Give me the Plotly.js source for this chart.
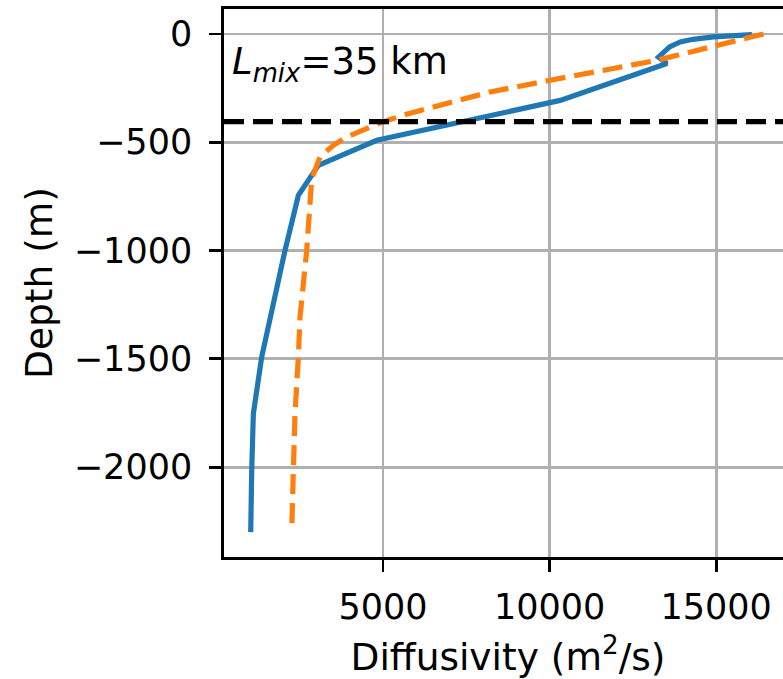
<!DOCTYPE html>
<html>
<head>
<meta charset="utf-8">
<script src="https://cdn.plot.ly/plotly-3.0.1.min.js"></script>
<style>
html, body { margin: 0; padding: 0; overflow: hidden; background: #fff; }
#chart { width: 800px; height: 679px; }
</style>
</head>
<body>
<div id="chart"></div>
<script>
// Blue (solid) profile: diffusivity (m^2/s) vs depth (m)
const blueDiffusivity = [16072, 15420, 14919, 14300, 13919, 13600, 13268, 13519, 10315, 4811, 3057, 2457, 2057, 1357, 1207, 1106, 1057, 1027];
const blueDepth       = [-3,    -7,    -14,   -25,   -37,   -60,   -107,  -137,  -307,  -491, -607, -745, -999, -1491, -1628, -1753, -2015, -2300];

// Orange (dashed) profile
const orangeDiffusivity = [16420, 15021, 13219, 10015, 8213, 5760, 4910, 3910, 3508, 3108, 2858, 2708, 2507, 2457, 2357, 2307, 2257];
const orangeDepth       = [0,     -53,   -122,  -214,  -268, -368, -411, -476, -514, -568, -668, -999, -1307, -1491, -1753, -2015, -2300];

// Horizontal reference depth (dashed black)
const refDepth = -405;

// Tick values / labels
const xTickVals = [5000, 10000, 15000];
const xTickText = ["5000", "10000", "15000"];
const yTickVals = [0, -500, -1000, -1500, -2000];
const yTickText = ["0", "\u2212500", "\u22121000", "\u22121500", "\u22122000"];

const annotationText = "<i>L</i><sub><i>mix</i></sub>=35 km";

const FONT = "DejaVu Sans, sans-serif";

const traces = [
  {
    x: blueDiffusivity, y: blueDepth, type: "scatter", mode: "lines",
    line: { color: "#1f77b4", width: 5.2 }, hoverinfo: "skip", showlegend: false
  },
  {
    x: orangeDiffusivity, y: orangeDepth, type: "scatter", mode: "lines",
    line: { color: "#ff7f0e", width: 5.2, dash: "20px,9px" }, hoverinfo: "skip", showlegend: false
  }
];

const layout = {
  width: 800, height: 679,
  margin: { l: 224, r: 8, t: 9, b: 122, pad: 0 },
  paper_bgcolor: "#ffffff", plot_bgcolor: "#ffffff",
  font: { family: FONT, size: 35, color: "#000000" },
  showlegend: false,
  xaxis: {
    range: [225, 17275],
    tickvals: xTickVals, ticktext: xTickText,
    ticks: "outside", ticklen: 12, tickwidth: 2.8, tickcolor: "#000",
    ticklabelstandoff: 5,
    showline: true, linecolor: "#000", linewidth: 2.8, mirror: true,
    showgrid: true, gridcolor: "#b0b0b0", gridwidth: 2.8,
    zeroline: false,
    tickfont: { family: FONT, size: 35, color: "#000" },
    title: { text: "Diffusivity (m<sup>2</sup>/s)", font: { family: FONT, size: 37.5, color: "#000" }, standoff: 20 }
  },
  yaxis: {
    range: [-2415, 115],
    tickvals: yTickVals, ticktext: yTickText,
    ticks: "outside", ticklen: 12, tickwidth: 2.8, tickcolor: "#000",
    ticklabelstandoff: 10,
    showline: true, linecolor: "#000", linewidth: 2.8, mirror: false,
    showgrid: true, gridcolor: "#b0b0b0", gridwidth: 2.8,
    zeroline: false,
    tickfont: { family: FONT, size: 35, color: "#000" },
    title: { text: "Depth (m)", font: { family: FONT, size: 37.5, color: "#000" }, standoff: 10 }
  },
  shapes: [
    {
      type: "line", xref: "paper", yref: "y", x0: 0, x1: 1, y0: refDepth, y1: refDepth,
      line: { color: "#000", width: 5.2, dash: "20px,9px" }, layer: "above"
    }
  ],
  annotations: [
    {
      xref: "x", yref: "y", x: 396, y: -140, xanchor: "left", yanchor: "middle",
      text: annotationText, showarrow: false,
      font: { family: FONT, size: 37, color: "#000" }
    }
  ]
};

Plotly.newPlot("chart", traces, layout, { displayModeBar: false, staticPlot: true });
</script>
</body>
</html>
